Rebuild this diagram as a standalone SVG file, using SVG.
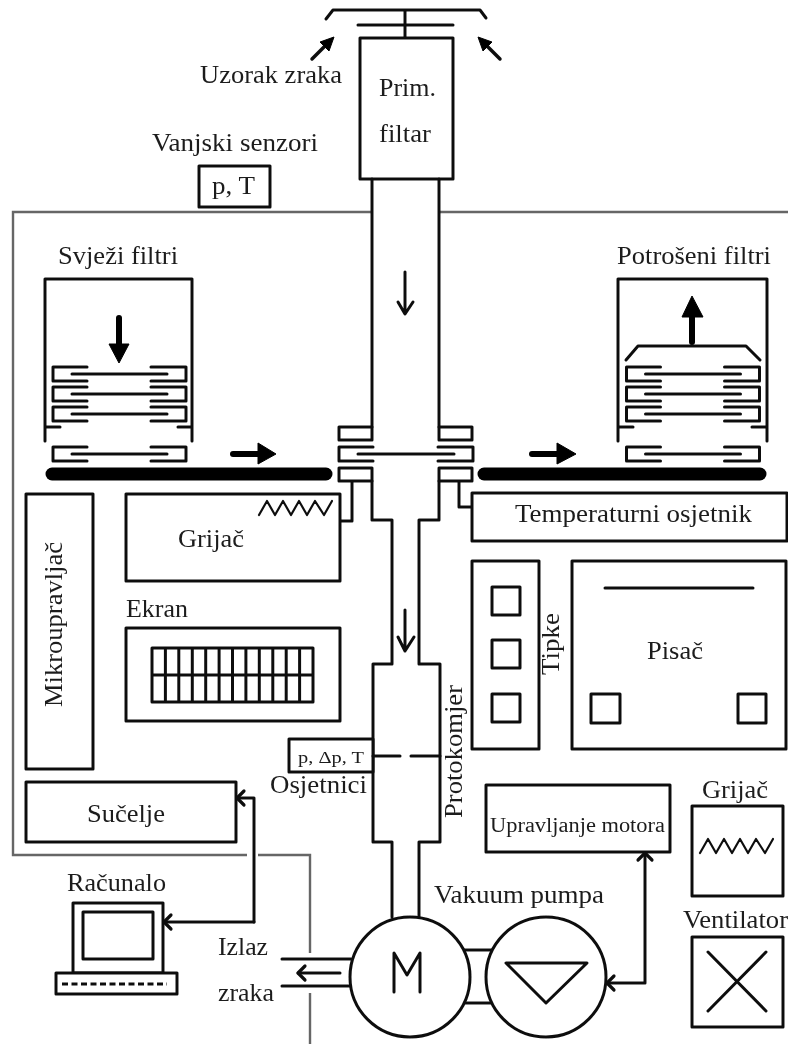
<svg xmlns="http://www.w3.org/2000/svg" width="788" height="1044" viewBox="0 0 788 1044">
<style>
.l{fill:none;stroke:#111;stroke-width:3;stroke-linecap:round;stroke-linejoin:round}
.b{fill:#fff;stroke:#111;stroke-width:3;stroke-linejoin:round}
.g{fill:none;stroke:#666;stroke-width:2.400}
.t{font-family:"Liberation Serif","Times New Roman",serif;font-size:25.500px;fill:#1c1c1c}
.thick{fill:none;stroke:#000;stroke-width:6;stroke-linecap:round}
.bar{fill:none;stroke:#000;stroke-width:13;stroke-linecap:round}
.fill{fill:#000;stroke:#000;stroke-width:1;stroke-linejoin:round}
</style>
<defs>
<filter id="soft" filterUnits="userSpaceOnUse" x="0" y="0" width="788" height="1044"><feGaussianBlur stdDeviation="0.45"/></filter>
<marker id="open" markerUnits="userSpaceOnUse" markerWidth="20" markerHeight="20" refX="14" refY="10" orient="auto-start-reverse" viewBox="0 0 20 20">
<path d="M7 3 L14 10 L7 17" fill="none" stroke="#111" stroke-width="3.200" stroke-linecap="round" stroke-linejoin="round"/>
</marker>
<g id="filter-unit">
<path class="l" d="M34 0H0V14H34M98 0H133V14H98"/>
<path class="l" d="M19 7H114"/>
</g>
<path id="zig" class="l" style="stroke-width:2.200" d="M0 14 8 0 16 14 24 0 32 14 40 0 48 14 56 0 65 14 73 0"/>
</defs>
<g filter="url(#soft)">
<g id="enclosure">
<path class="g" d="M372 212H13V855H247M258 855H310V953M310 993V1044M440 212H788"/>
</g>

<g id="connectors">
<path class="l" d="M254 922V798H237" marker-end="url(#open)"/>
<path class="l" d="M254 922H164" marker-end="url(#open)"/>
<path class="l" d="M607 983H645V853" marker-start="url(#open)" marker-end="url(#open)"/>
<path class="l" d="M352 481V521H340"/>
<path class="l" d="M459 481V507H472"/>
<path class="l" d="M463 950H492M463 1003H492"/>
<path class="l" d="M340 973H298" marker-end="url(#open)"/>
<path class="l" d="M282 959H351M282 986H350"/>
</g>

<g id="sampler-head">
<path class="l" d="M326 19 333 10H480L486 18M358 25H453M405 10V38"/>
<path class="l" style="stroke-width:3.500" d="M312 59 330 41"/>
<path class="fill" d="M334 37 320 42 329 51Z"/>
<path class="l" style="stroke-width:3.500" d="M500 59 482 41"/>
<path class="fill" d="M478 37 492 42 483 51Z"/>
<text class="t" x="200" y="83" textLength="142" lengthAdjust="spacingAndGlyphs">Uzorak zraka</text>
</g>

<g id="prim-filter">
<rect class="b" x="360" y="38" width="93" height="141"/>
<text class="t" x="379" y="96" textLength="57" lengthAdjust="spacingAndGlyphs">Prim.</text>
<text class="t" x="379" y="142" textLength="52" lengthAdjust="spacingAndGlyphs">filtar</text>
</g>

<g id="external-sensors">
<text class="t" x="152" y="151" textLength="166" lengthAdjust="spacingAndGlyphs">Vanjski senzori</text>
<rect class="b" x="199" y="166" width="71" height="41"/>
<text class="t" x="212" y="194" textLength="43" lengthAdjust="spacingAndGlyphs">p, T</text>
</g>

<g id="sampling-tube">
<path class="l" d="M372 179V427M439 179V427"/>
<path class="l" d="M372 481V520H392V664H373V842H392V917M439 481V520H419V664H440V842H419V917"/>
<path class="l" d="M405 272V313M398 302 405 314 413 302"/>
<path class="l" d="M405 610V651M398 637 405 651 414 637"/>
</g>

<g id="filter-clamp">
<rect class="b" x="339" y="427" width="33" height="13"/>
<rect class="b" x="439" y="427" width="33" height="13"/>
<rect class="b" x="339" y="468" width="33" height="13"/>
<rect class="b" x="439" y="468" width="33" height="13"/>
<path class="l" d="M373 447H339V461H373M438 447H473V461H438M358 454H454"/>
</g>

<g id="fresh-filters">
<text class="t" x="58" y="264" textLength="120" lengthAdjust="spacingAndGlyphs">Svježi filtri</text>
<path class="l" d="M45 441V279H192V441M45 427H60M192 427H178"/>
<use href="#filter-unit" x="53" y="367"/>
<use href="#filter-unit" x="53" y="387"/>
<use href="#filter-unit" x="53" y="407"/>
<use href="#filter-unit" x="53" y="447"/>
<path class="thick" d="M119 318V345"/>
<path class="fill" d="M109 344H129L119 363Z"/>
<path class="bar" d="M52 474H326"/>
<path class="thick" d="M233 454H260"/>
<path class="fill" d="M258 443 276 454 258 464Z"/>
</g>

<g id="spent-filters">
<text class="t" x="617" y="264" textLength="154" lengthAdjust="spacingAndGlyphs">Potrošeni filtri</text>
<path class="l" d="M618 441V279H767V441M618 427H633M767 427H752"/>
<use href="#filter-unit" x="626.500" y="367"/>
<use href="#filter-unit" x="626.500" y="387"/>
<use href="#filter-unit" x="626.500" y="407"/>
<use href="#filter-unit" x="626.500" y="447"/>
<path class="l" d="M626 360 638 346H746L760 360"/>
<path class="thick" d="M692 342V315"/>
<path class="fill" d="M682 317H703L692 296Z"/>
<path class="bar" d="M484 474H760"/>
<path class="thick" d="M532 454H559"/>
<path class="fill" d="M557 443 576 454 557 464Z"/>
</g>

<g id="microcontroller">
<rect class="b" x="26" y="494" width="67" height="275"/>
<text class="t" transform="translate(62 707) rotate(-90)" textLength="165" lengthAdjust="spacingAndGlyphs">Mikroupravljač</text>
</g>

<g id="heater-inner">
<rect class="b" x="126" y="494" width="214" height="87"/>
<use href="#zig" x="259" y="501"/>
<text class="t" x="178" y="547" textLength="66" lengthAdjust="spacingAndGlyphs">Grijač</text>
</g>

<g id="screen">
<text class="t" x="126" y="617" textLength="62" lengthAdjust="spacingAndGlyphs">Ekran</text>
<rect class="b" x="126" y="628" width="214" height="93"/>
<path class="l" d="M152 648H313V702H152ZM152 675H313M165.400 648V702M178.800 648V702M192.300 648V702M205.700 648V702M219.100 648V702M232.500 648V702M245.900 648V702M259.300 648V702M272.800 648V702M286.200 648V702M299.600 648V702"/>
</g>

<g id="interface">
<rect class="b" x="26" y="782" width="210" height="60"/>
<text class="t" x="87" y="822" textLength="78" lengthAdjust="spacingAndGlyphs">Sučelje</text>
</g>

<g id="temperature-sensor">
<rect class="b" x="472" y="493" width="315" height="48"/>
<text class="t" x="515" y="522" textLength="237" lengthAdjust="spacingAndGlyphs">Temperaturni osjetnik</text>
</g>

<g id="keys">
<rect class="b" x="472" y="561" width="67" height="188"/>
<rect class="b" x="492" y="587" width="28" height="28"/>
<rect class="b" x="492" y="640" width="28" height="28"/>
<rect class="b" x="492" y="694" width="28" height="28"/>
<text class="t" transform="translate(559 675) rotate(-90)" textLength="62" lengthAdjust="spacingAndGlyphs">Tipke</text>
</g>

<g id="printer">
<rect class="b" x="572" y="561" width="214" height="188"/>
<path class="l" d="M605 588H753"/>
<rect class="b" x="591" y="694" width="29" height="29"/>
<rect class="b" x="738" y="694" width="28" height="29"/>
<text class="t" x="647" y="659" textLength="56" lengthAdjust="spacingAndGlyphs">Pisač</text>
</g>

<g id="flowmeter">
<rect class="b" x="289" y="739" width="84" height="33"/>
<text class="t" style="font-size:17px" x="298" y="763" textLength="66" lengthAdjust="spacingAndGlyphs">p, Δp, T</text>
<path class="l" d="M373 756H400M411 756H440"/>
<text class="t" x="270" y="793" textLength="97" lengthAdjust="spacingAndGlyphs">Osjetnici</text>
<text class="t" transform="translate(462 818) rotate(-90)" textLength="133" lengthAdjust="spacingAndGlyphs">Protokomjer</text>
</g>

<g id="motor-control">
<rect class="b" x="486" y="785" width="184" height="67"/>
<text class="t" style="font-size:20px" x="490" y="832" textLength="175" lengthAdjust="spacingAndGlyphs">Upravljanje motora</text>
</g>

<g id="heater-outer">
<text class="t" x="702" y="798" textLength="66" lengthAdjust="spacingAndGlyphs">Grijač</text>
<rect class="b" x="692" y="806" width="91" height="90"/>
<use href="#zig" x="700" y="839"/>
</g>

<g id="fan">
<text class="t" x="683" y="928" textLength="105" lengthAdjust="spacingAndGlyphs">Ventilator</text>
<rect class="b" x="692" y="937" width="91" height="90"/>
<path class="l" d="M708 952 766 1011M766 952 708 1011"/>
</g>

<g id="computer">
<text class="t" x="67" y="891" textLength="99" lengthAdjust="spacingAndGlyphs">Računalo</text>
<rect class="b" x="73" y="903" width="90" height="70"/>
<rect class="b" x="83" y="912" width="70" height="47"/>
<rect class="b" x="56" y="973" width="121" height="21"/>
<path class="l" style="stroke-dasharray:6 3.500;stroke-linecap:butt" d="M62 984H167"/>
</g>

<g id="air-outlet">
<text class="t" x="218" y="955" textLength="50" lengthAdjust="spacingAndGlyphs">Izlaz</text>
<text class="t" x="218" y="1001" textLength="56" lengthAdjust="spacingAndGlyphs">zraka</text>
</g>

<g id="motor">
<circle class="b" cx="410" cy="977" r="60"/>
<path class="l" d="M394 992V953L407 975 420 953V992"/>
</g>

<g id="vacuum-pump">
<text class="t" x="434" y="903" textLength="170" lengthAdjust="spacingAndGlyphs">Vakuum pumpa</text>
<circle class="b" cx="546" cy="977" r="60"/>
<path class="l" d="M506 963H587L546 1003Z"/>
</g>
</g>
</svg>
